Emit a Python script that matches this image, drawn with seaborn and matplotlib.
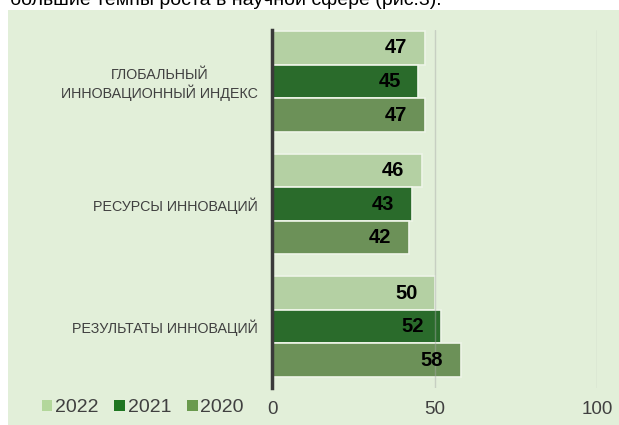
import numpy as np
import pandas as pd
import matplotlib
matplotlib.use('Agg')
import matplotlib.pyplot as plt
from matplotlib.patches import Rectangle, Patch
import seaborn as sns

# ------ данные -------
categories = ['ГЛОБАЛЬНЫЙ\nИННОВАЦИОННЫЙ ИНДЕКС', 'РЕСУРСЫ ИННОВАЦИЙ', 'РЕЗУЛЬТАТЫ ИННОВАЦИЙ']
years = ['2022', '2021', '2020']
vals_2022 = [47, 46, 50]
vals_2021 = [45, 43, 52]
vals_2020 = [47, 42, 58]
x_ticks = [0, 50, 100]

colors = ['#b3d79b', '#1f7621', '#6a9a4e']
bg = '#e2efd9'
txt = '#404040'

df = pd.DataFrame({
    'cat': categories * 3,
    'year': [y for y in years for _ in categories],
    'val': vals_2022 + vals_2021 + vals_2020,
})

sns.set_style('white')
plt.rcParams['font.family'] = ['Liberation Sans', 'DejaVu Sans']

fig = plt.figure(figsize=(6.19, 4.25), dpi=100)
fig.patches.append(Rectangle((8 / 619, 0), 1, 1 - 10 / 425, transform=fig.transFigure,
                             facecolor=bg, edgecolor='none', zorder=-10))
fig.text(10 / 619, 1.0, 'большие темпы роста в научной сфере (рис.3).', fontsize=14,
         color='black', va='center', ha='left')

ax = fig.add_axes([272 / 619, 1 - 388 / 425, 325 / 619, 358 / 425])
ax.set_facecolor('none')
sns.barplot(data=df, y='cat', x='val', hue='year', hue_order=years, palette=colors,
            orient='h', width=0.82, ax=ax, edgecolor='#eef5e8', linewidth=1.2,
            legend=False)

for cont in ax.containers:
    for p in cont:
        w = p.get_width()
        ax.text(w - 5.3, p.get_y() + p.get_height() / 2, f'{w:.0f}', ha='right',
                va='center', fontsize=14.5, fontweight='bold', color='black', zorder=4)

ax.set_xlim(0, 100)
ax.set_ylim(2.5, -0.42)
ax.set_xticks(x_ticks)
ax.set_xticklabels([str(t) for t in x_ticks], fontsize=13.5, color=txt)
ax.tick_params(axis='x', length=5, color='#c8c8c8', pad=4, width=1)
ax.tick_params(axis='y', length=0, pad=10)
ax.set_yticks(range(len(categories)))
ax.set_yticklabels(categories, fontsize=10.3, color=txt, multialignment='center')
ax.set_xlabel('')
ax.set_ylabel('')
# сетка поверх столбцов, полупрозрачная
ax.set_axisbelow(False)
ax.grid(axis='x', color='#a8a8a8', linewidth=1, alpha=0.45)
for s in ['top', 'right', 'bottom']:
    ax.spines[s].set_visible(False)
ax.spines['left'].set_color('#3a3a3a')
ax.spines['left'].set_linewidth(2.5)
ax.spines['left'].set_zorder(5)

handles = [Patch(facecolor=c, edgecolor='none') for c in colors]
fig.legend(handles, years, loc='center left', bbox_to_anchor=(24 / 619, 1 - 408 / 425),
           ncol=3, frameon=False, fontsize=14, handlelength=0.55, handleheight=0.55,
           handletextpad=0.15, columnspacing=0.8, labelcolor=txt)

fig.savefig('out.png', dpi=100)
